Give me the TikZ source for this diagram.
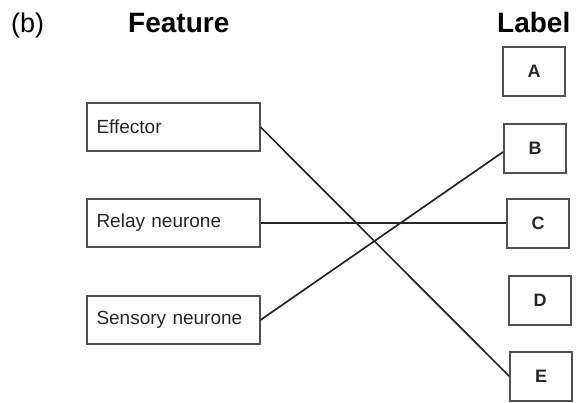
\documentclass[tikz,border=0pt]{standalone}
\usepackage{fontspec}
\setmainfont{Liberation Sans}
\usepackage{tikz}
\usetikzlibrary{positioning, calc}
\definecolor{boxgray}{RGB}{80, 80, 80}

\begin{document}
\begin{tikzpicture}[
    x=1pt, y=-1pt,
    heading/.style={anchor=base west, inner sep=0pt, font=\fontsize{28}{32}\selectfont\bfseries},
    feature/.style={draw=boxgray, line width=2pt, minimum height=48pt, text width=153pt,
        inner xsep=10pt, align=left, text=black!85, font=\fontsize{19}{22}\selectfont},
    label/.style={draw=boxgray, line width=2pt, minimum width=62pt, minimum height=49pt,
        text=black!85, font=\fontsize{18}{20}\selectfont\bfseries},
    link/.style={line width=1.7pt, black!85}
]
\useasboundingbox (0,0) rectangle (576,402);

% headings
\node[anchor=base west, inner sep=0pt, font=\fontsize{27}{30}\selectfont] (part) at (11,32) {(b)};
\node[heading] (feat) at (128,32) {Feature};
\node[heading] (lab) at (497,32) {Label};

% features on the left
\node[feature] (effector) at (173,127) {Effector};
\node[feature] (relay) at (173,223) {Relay neurone};
\node[feature] (sensory) at (173,320) {Sensory neurone};

% labels on the right
\node[label] (a) at (534,71) {A};
\node[label] (b) at (535,148) {B};
\node[label] (c) at (538,223) {C};
\node[label] (d) at (540,300) {D};
\node[label] (e) at (541,376) {E};

\draw[link] (effector.east) -- (e.west);
\draw[link] (relay.east) -- (c.west);
\draw[link] (sensory.east) -- ($(b.west)+(0,4)$);
\end{tikzpicture}
\end{document}
